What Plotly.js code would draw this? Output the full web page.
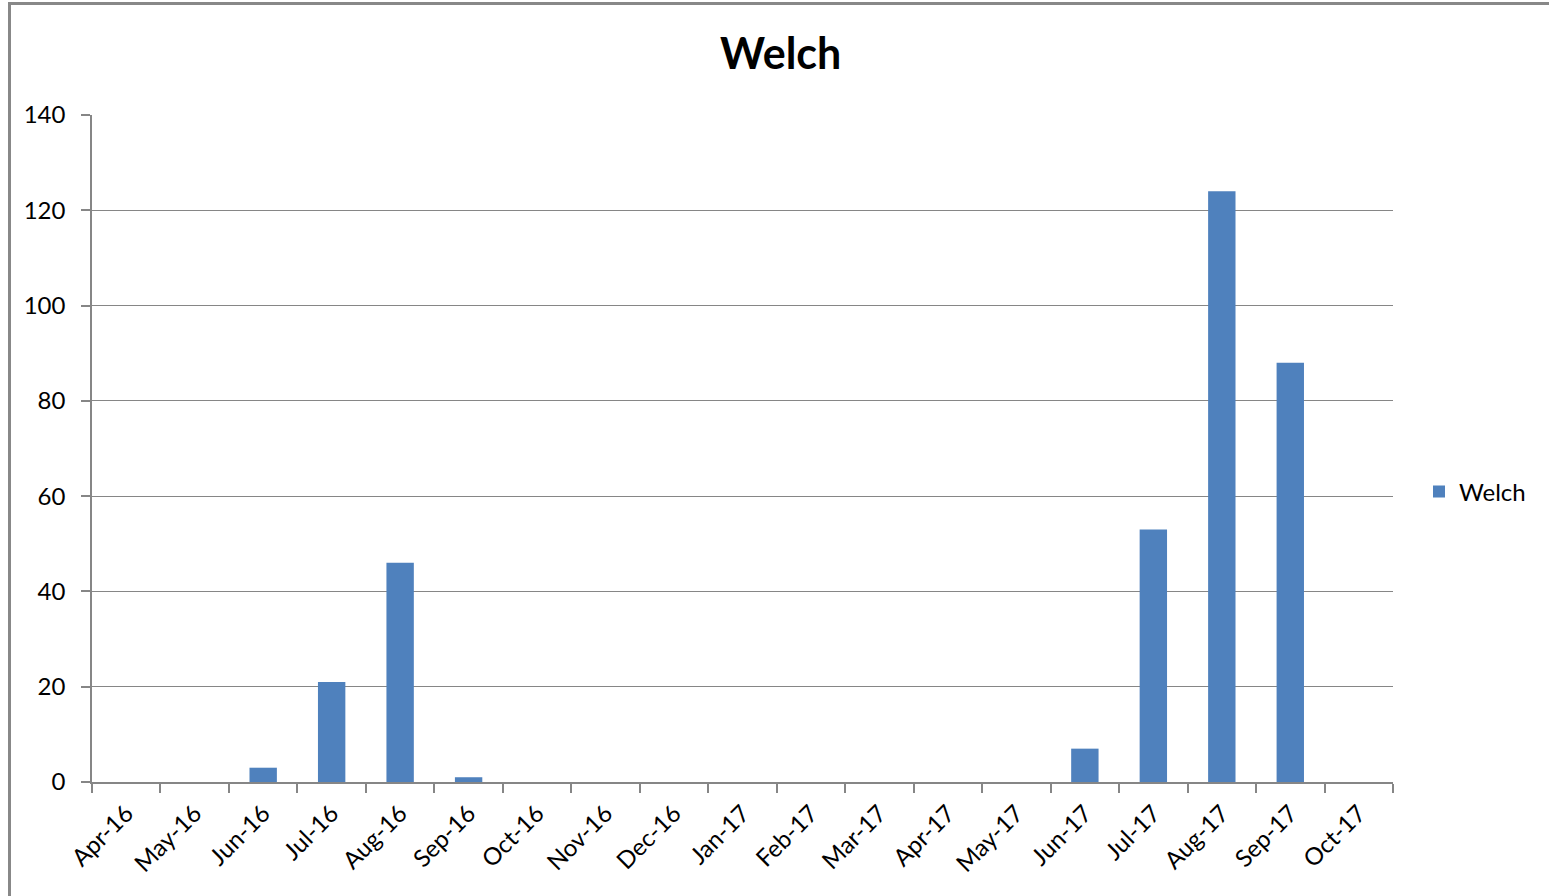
<!DOCTYPE html>
<html>
<head>
<meta charset="utf-8">
<script src="https://cdn.plot.ly/plotly-3.0.1.min.js"></script>
<style>html,body{margin:0;padding:0;background:#fff;}#chart{width:1549px;height:896px;}</style>
</head>
<body>
<div id="chart"></div>
<script>
const categories = ["Apr-16","May-16","Jun-16","Jul-16","Aug-16","Sep-16","Oct-16","Nov-16","Dec-16","Jan-17","Feb-17","Mar-17","Apr-17","May-17","Jun-17","Jul-17","Aug-17","Sep-17","Oct-17"];
const welchValues = [0,0,3,21,46,1,0,0,0,0,0,0,0,0,7,53,124,88,0];
const yTicks = [0,20,40,60,80,100,120,140];

const L = 92, R = 1393, T = 115, B = 782;
const px2x = p => (p - L) / (R - L);
const py2y = p => (B - p) / (B - T);

const font = "Lato, 'Open Sans', sans-serif";

Plotly.newPlot("chart", [{
  type: "bar",
  name: "Welch",
  x: categories,
  y: welchValues,
  marker: {color: "#4F81BD"},
  hoverinfo: "x+y"
}], {
  width: 1549, height: 896,
  margin: {l: L, r: 1549 - R, t: T, b: 896 - B, pad: 0},
  paper_bgcolor: "#fff", plot_bgcolor: "#fff",
  bargap: 0.6,
  title: {text: "<b>Welch</b>", font: {family: font, size: 43, color: "#000"}, x: 0.504, xanchor: "center", y: 0.94, yanchor: "middle"},
  font: {family: font, color: "#000"},
  xaxis: {
    type: "category",
    tickangle: -45,
    tickson: "boundaries",
    ticks: "outside", ticklen: 9, tickcolor: "#868686", tickwidth: 1.5,
    showline: true, linecolor: "#868686", linewidth: 1.5,
    showgrid: false, zeroline: false,
    tickfont: {family: font, size: 24, color: "#000"},
    ticklabelstandoff: 6,
    fixedrange: true
  },
  yaxis: {
    range: [0, 140],
    tickvals: yTicks,
    ticktext: yTicks.map(String),
    ticks: "outside", ticklen: 9, tickcolor: "#868686", tickwidth: 1.5,
    showline: true, linecolor: "#868686", linewidth: 1.5,
    showgrid: true, gridcolor: "#868686", gridwidth: 1,
    zeroline: false,
    tickfont: {family: font, size: 24, color: "#000"},
    ticklabelstandoff: 11,
    fixedrange: true
  },
  showlegend: true,
  legend: {x: px2x(1419), xanchor: "left", y: py2y(492), yanchor: "middle", font: {family: font, size: 24, color: "#000"}, bgcolor: "rgba(0,0,0,0)", itemwidth: 30},
  shapes: [
    {type: "line", xref: "paper", yref: "paper", x0: px2x(9), x1: px2x(1560), y0: py2y(3.5), y1: py2y(3.5), line: {color: "#888", width: 3}},
    {type: "line", xref: "paper", yref: "paper", x0: px2x(9.5), x1: px2x(9.5), y0: py2y(2), y1: py2y(910), line: {color: "#888", width: 3}}
  ]
}, {displayModeBar: false, staticPlot: false});
</script>
</body>
</html>
